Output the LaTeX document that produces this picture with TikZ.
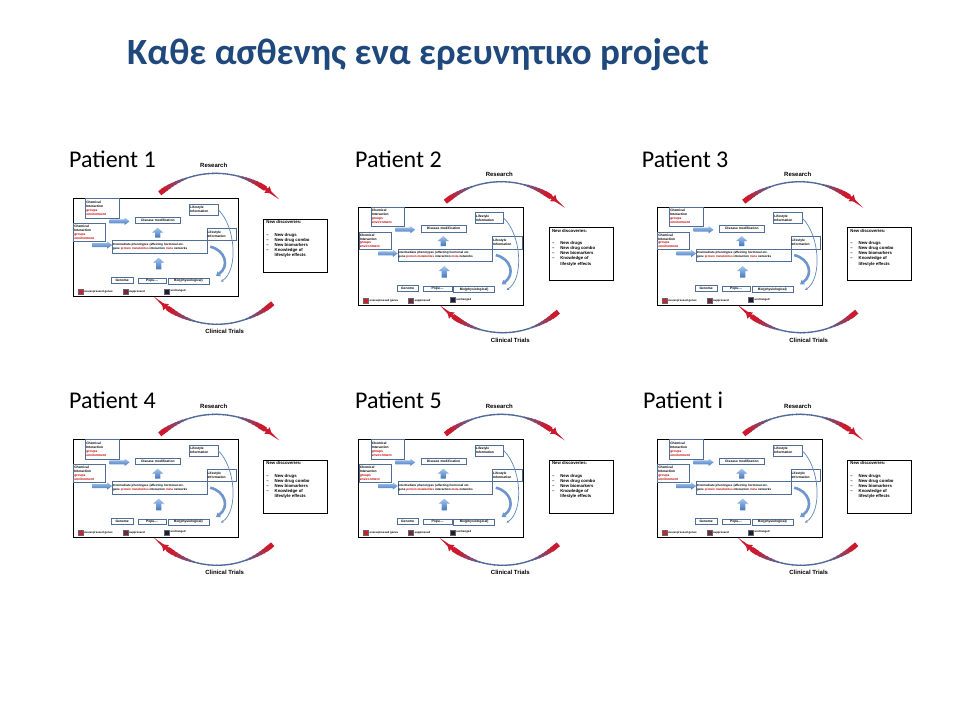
\documentclass[tikz,border=0pt]{standalone}
\usepackage{fontspec}
\setmainfont{Liberation Sans}
\newfontfamily\calibri{Carlito}
\usetikzlibrary{arrows.meta}

\definecolor{titleblue}{RGB}{31,73,125}
\definecolor{boxc}{RGB}{80,110,150}
\definecolor{tred}{RGB}{192,0,0}
\definecolor{arlight}{RGB}{165,198,236}
\definecolor{ardark}{RGB}{68,118,190}
\definecolor{arcred}{RGB}{205,25,45}
\definecolor{arcblue}{RGB}{80,105,155}
\definecolor{sqred}{RGB}{205,30,50}
\definecolor{sqpurple}{RGB}{115,35,70}
\definecolor{sqnavy}{RGB}{25,30,60}
\definecolor{curvethin}{RGB}{95,135,185}
\definecolor{curvethick}{RGB}{110,150,205}

\newcommand{\ift}{\bfseries\fontsize{3.3}{3.9}\selectfont}
\newcommand{\iftsmall}{\bfseries\fontsize{3.0}{3.8}\selectfont}

\tikzset{
  mainbox/.style={draw=black, line width=0.8pt, anchor=north west, inner sep=0pt},
  ibox/.style={draw=boxc, line width=0.5pt, anchor=north west, inner sep=0.6pt, align=left, font=\ift},
  nbox/.style={draw=black, line width=0.7pt, anchor=north west, inner sep=0pt, minimum width=64pt, minimum height=53pt},
  ntext/.style={anchor=north west, inner sep=0pt, align=left, font=\bfseries\fontsize{4.3}{5.15}\selectfont},
  sq/.style={draw=black!60, line width=0.3pt, anchor=north west, inner sep=0pt, minimum size=5pt},
  lgt/.style={anchor=west, inner sep=0.8pt, font=\bfseries\fontsize{2.8}{3.2}\selectfont},
  lbl/.style={inner sep=0pt, font=\bfseries\fontsize{6}{7}\selectfont},
  plabel/.style={anchor=base west, inner sep=0pt, font=\calibri\fontsize{24}{28}\selectfont},
  thincurve/.style={draw=curvethin, line width=0.7pt, -{Stealth[length=2.6pt,width=2.6pt]}},
  thickcurve/.style={draw=curvethick, line width=2.6pt, -{Triangle[length=4pt,width=5.5pt]}},
  arctip/.style={draw=arcred, line width=3.2pt, -{Triangle[width=8pt,length=6pt]}}
}

% gradient arc: cx, cy, r, start angle (tail), end angle
\newcommand{\gradarc}[5]{%
  \foreach \i in {0,...,29}{%
    \pgfmathsetmacro\ta{#4+(#5-#4)*\i/30}%
    \pgfmathsetmacro\tb{#4+(#5-#4)*min(\i+1.25,30)/30}%
    \pgfmathsetmacro\ff{max(0,min(1,(abs(2*(\i+0.5)/30-1)-0.45)/0.45))}%
    \pgfmathsetmacro\ww{1.3+3.7*\ff}%
    \pgfmathsetmacro\pc{100*\ff}%
    \draw[line width=\ww pt, color=arcred!\pc!arcblue]
      ({#1+#3*cos(\ta)},{#2+#3*sin(\ta)}) arc[start angle=\ta, end angle=\tb, radius=#3pt];
  }%
}

\newcommand{\myrarrow}[3]{%
  \shade[top color=arlight, bottom color=ardark]
   (#1,#3+2) -- (#2-5,#3+2) -- (#2-5,#3+3.6) -- (#2,#3) -- (#2-5,#3-3.6) -- (#2-5,#3-2) -- (#1,#3-2) -- cycle;}
\newcommand{\myuarrow}[3]{%
  \shade[top color=arlight, bottom color=ardark]
   (#1-2.6,#2) -- (#1-2.6,#3-5) -- (#1-5.5,#3-5) -- (#1,#3) -- (#1+5.5,#3-5) -- (#1+2.6,#3-5) -- (#1+2.6,#2) -- cycle;}

\newcommand{\patpanel}[3]{%
\begin{scope}[shift={(#2,-#3)}, name prefix=#1-]
  % arcs
  \gradarc{143}{-63.4}{88.4}{129.3}{55.7}
  \draw[arctip] ({143+88.4*cos(58)},{-63.4+88.4*sin(58)}) arc[start angle=58, end angle=50.7, radius=88.4pt];
  \gradarc{144.5}{-42.2}{83.8}{311.5}{233.5}
  \draw[arctip] ({144.5+83.8*cos(236)},{-42.2+83.8*sin(236)}) arc[start angle=236, end angle=228.5, radius=83.8pt];
  \node[lbl] (res) at (141,32.5) {Research};
  \node[lbl] (ct) at (152,-133.5) {Clinical Trials};
  % main frame
  \node[mainbox, minimum width=165pt, minimum height=98pt] (main) at (0,0) {};
  % boxes
  \node[ibox, text width=32pt, minimum height=19.3pt] (chemA) at (12.7,0) {Chemical\\Interaction\\\textcolor{tred}{groups}\\\textcolor{tred}{environment}};
  \node[ibox, text width=43.4pt, minimum height=6.3pt, align=center] (dis) at (62.7,-18.7) {Disease modification};
  \node[ibox, text width=30.4pt, minimum height=17.7pt] (chemB) at (0.7,-25) {Chemical\\Interaction\\\textcolor{tred}{groups}\\\textcolor{tred}{environment}};
  \node[ibox, font=\iftsmall, text width=93.5pt, minimum height=12.3pt] (inter) at (39.3,-42) {Intermediate phenotypes (affecting hormonal etc.\\gene \textcolor{tred}{protein metabolites} interaction \textcolor{tred}{meta} networks};
  \node[ibox, text width=20.5pt, minimum height=6pt, align=center] (genome) at (38.3,-78.7) {Genome};
  \node[ibox, text width=27pt, minimum height=5.4pt, align=center] (pop) at (65,-79.3) {Popu....};
  \node[ibox, text width=39.8pt, minimum height=6pt, align=center] (bio) at (95,-79.3) {Bio(physiological)};
  \node[ibox, text width=27pt, minimum height=11.4pt] (life1) at (116.7,-5.3) {Lifestyle\\Information};
  \node[ibox, text width=28pt, minimum height=12.7pt] (life2) at (134,-29.3) {Lifestyle\\Information};
  % fat arrows
  \myrarrow{37}{57}{-23}
  \myrarrow{20}{39.5}{-46.7}
  \myuarrow{85}{-39.3}{-29.3}
  \myuarrow{86}{-71}{-59.3}
  % right curves
  \coordinate (te1) at (148.3,-83.3);
  \coordinate (te2) at (143.3,-77.7);
  \draw[thincurve] (life1.east) .. controls (163,-28) and (166,-72) .. (te1);
  \draw[thickcurve] ([xshift=3pt]inter.east) .. controls (153,-52) and (157,-68) .. (te2);
  % legend
  \node[sq, fill=sqred] (lg1) at (5,-91) {};
  \node[lgt] (lg1t) at (lg1.east) {overexpressed genes};
  \node[sq, fill=sqpurple] (lg2) at (50,-91) {};
  \node[lgt] (lg2t) at (lg2.east) {suppressed};
  \node[sq, fill=sqnavy] (lg3) at (91.7,-90.3) {};
  \node[lgt] (lg3t) at (lg3.east) {unchanged};
  % new discoveries
  \node[nbox] (newd) at (190.5,-20.5) {};
  \node[ntext] (newdt) at ([shift={(3pt,-1.6pt)}]newd.north west) {New discoveries:\\[7.2pt]
    \makebox[8.3pt][l]{--}New drugs\\
    \makebox[8.3pt][l]{--}New drug combo\\
    \makebox[8.3pt][l]{--}New biomarkers\\
    \makebox[8.3pt][l]{--}Knowledge of\\
    \hspace*{8.3pt}lifestyle effects};
\end{scope}}

\begin{document}
\begin{tikzpicture}[x=1pt,y=1pt]
  \useasboundingbox (0,0) rectangle (960,-720);
  \fill[white] (0,0) rectangle (960,-720);
  \node[anchor=base west, inner sep=0pt, font=\calibri\bfseries\fontsize{37}{44}\selectfont, text=titleblue] (title) at (127,-64) {Καθε ασθενης ενα ερευνητικο project};

  \node[plabel] (lab1) at (69,-167.5) {Patient 1};
  \node[plabel] (lab2) at (355,-167.5) {Patient 2};
  \node[plabel] (lab3) at (641.7,-167.5) {Patient 3};
  \node[plabel] (lab4) at (69,-408) {Patient 4};
  \node[plabel] (lab5) at (355,-408) {Patient 5};
  \node[plabel] (lab6) at (643,-408) {Patient i};

  \patpanel{p1}{72.7}{198.3}
  \patpanel{p2}{358.3}{206.7}
  \patpanel{p3}{656.7}{206.7}
  \patpanel{p4}{72.7}{439.3}
  \patpanel{p5}{358.3}{439.3}
  \patpanel{p6}{656.7}{439.3}
\end{tikzpicture}
\end{document}
